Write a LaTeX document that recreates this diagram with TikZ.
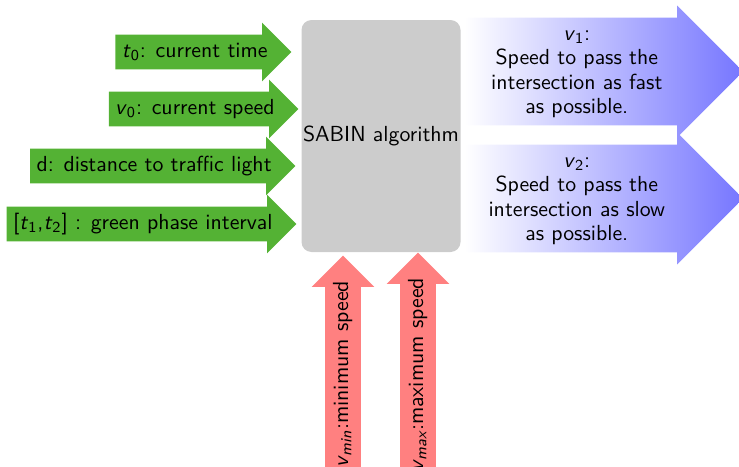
\documentclass[tikz,border=0pt]{standalone}
\usepackage{fontspec}
\usetikzlibrary{shapes.arrows,shadings}

\definecolor{ingreen}{RGB}{84,178,52}
\definecolor{limred}{RGB}{255,128,128}
\definecolor{outblue}{RGB}{118,118,255}
\definecolor{boxgray}{RGB}{204,204,204}

% italic variable names in the sans text
\newcommand\vr[1]{\textit{#1}}

\tikzset{
  base/.style={font=\sffamily\fontsize{10.9}{12.3}\selectfont, text=black},
  inarrow/.style={base, single arrow, draw=none, fill=ingreen, anchor=tip,
    single arrow head extend=6pt, inner xsep=3pt, inner ysep=3.5pt,
    text height=7.5pt, text depth=2.5pt},
  outarrow/.style={base, single arrow, draw=none, left color=white,
    right color=outblue, anchor=tail, single arrow head extend=6pt,
    align=center, text width=106pt, inner xsep=3pt, inner ysep=3.45pt,
    text height=7.6pt, text depth=39pt},
  limarrow/.style={base, single arrow, draw=none, fill=limred, rotate=90,
    anchor=tip, single arrow head extend=6.75pt, inner xsep=3.5pt,
    inner ysep=3.75pt, text height=7.5pt, text depth=2.5pt},
  algbox/.style={base, fill=boxgray, rounded corners=5pt,
    minimum width=79.5pt, minimum height=116pt, inner sep=0pt}
}

\begin{document}
\begin{tikzpicture}[x=0.5pt, y=-0.5pt]
  \clip (0,0) rectangle (739,466);

  % central block
  \node[algbox] (alg) at (381,136) {SABIN algorithm};

  % inputs
  \node[inarrow] (t0) at (292,52) {\vr{t}\textsubscript{0}: current time};
  \node[inarrow] (v0) at (299,109) {\vr{v}\textsubscript{0}: current speed};
  \node[inarrow] (d)  at (296,166) {d: distance to traffic light};
  \node[inarrow] (tt) at (297,224) {[\vr{t}\textsubscript{1},\vr{t}\textsubscript{2}] : green phase interval};

  % limits
  \node[limarrow] (vmin) at (343,255) {\vr{v}\textsubscript{\itshape min}:minimum speed};
  \node[limarrow] (vmax) at (418,252) {\vr{v}\textsubscript{\itshape max}:maximum speed};

  % outputs
  \node[outarrow] (v1) at (464,71.5) {\vr{v}\textsubscript{1}:\\Speed to pass the\\intersection as fast\\as possible.};
  \node[outarrow] (v2) at (464,198.5) {\vr{v}\textsubscript{2}:\\Speed to pass the\\intersection as slow\\as possible.};
\end{tikzpicture}
\end{document}
